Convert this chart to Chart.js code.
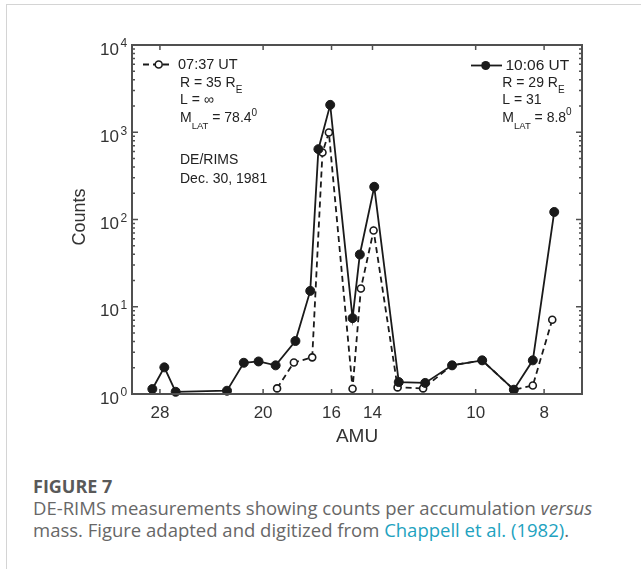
<!DOCTYPE html>
<html>
<head>
<meta charset="utf-8">
<script src="https://cdn.jsdelivr.net/npm/chart.js@4.4.0/dist/chart.umd.min.js"></script>
<style>
body { margin: 0; background: #fff; width: 641px; height: 569px; overflow: hidden; position: relative; font-family: "Open Sans", sans-serif; }
#frame { position: absolute; left: 6px; top: 4px; width: 660px; height: 600px; border-top: 1px solid #d4d4d4; border-left: 1px solid #d4d4d4; }
#wrap { position: absolute; left: 0; top: 0; width: 641px; height: 460px; }
#caption { position: absolute; left: 33px; top: 475px; width: 605px; color: #676767; }
#caption .fig { font-weight: 700; font-size: 18px; line-height: 22px; color: #595959; }
#caption p { margin: 0; font-size: 18.5px; line-height: 22px; white-space: nowrap; }
#caption a { color: #22a2c0; text-decoration: none; }
</style>
</head>
<body>
<div id="frame"></div>
<div id="wrap"><canvas id="amuChart" width="641" height="460"></canvas></div>
<div id="caption">
  <div class="fig">FIGURE 7</div>
  <p>DE-RIMS measurements showing counts per accumulation <i>versus</i><br>mass. Figure adapted and digitized from <a>Chappell et al. (1982)</a>.</p>
</div>
<script>
// DE/RIMS mass scans, Dec. 30, 1981
const amu1006 = [28.7, 27.6, 26.6, 22.5, 21.3, 20.3, 19.2, 18.0, 17.15, 16.7, 16.07, 14.94, 14.59, 13.92, 12.85, 11.79, 10.8, 9.79, 8.83, 8.3, 7.74];
const counts1006 = [1.14, 2.02, 1.06, 1.09, 2.28, 2.36, 2.13, 4.05, 15.2, 640, 2060, 7.4, 39.7, 237, 1.37, 1.34, 2.13, 2.43, 1.12, 2.43, 122];

const amu0737 = [19.11, 18.09, 17.04, 16.48, 16.14, 14.94, 14.54, 13.95, 12.9, 11.87, 10.8, 9.79, 8.83, 8.3, 7.79];
const counts0737 = [1.16, 2.3, 2.63, 585, 993, 1.15, 16.2, 74.8, 1.19, 1.16, 2.13, 2.43, 1.12, 1.25, 7.1];

const amuTicks = [28, 20, 16, 14, 10, 8];
const countDecades = [0, 1, 2, 3, 4];

const FONT = '"Liberation Sans", Arial, sans-serif';
const INK = '#1a1a1a';
const AXIS = '#505050';

function toPoints(xs, ys) {
    return xs.map((x, i) => ({ x: x, y: ys[i] }));
}

// draws a row of text pieces (for sub/superscripts)
function drawRuns(ctx, x, y, parts) {
    parts.forEach(([text, size, dy]) => {
        ctx.font = size + 'px ' + FONT;
        ctx.fillText(text, x, y + dy);
        x += ctx.measureText(text).width;
    });
}

const axesPlugin = {
    id: 'matlabAxes',
    afterDraw(chart) {
        const ctx = chart.ctx;
        const a = chart.chartArea;
        const xs = chart.scales.x;
        const ys = chart.scales.y;
        ctx.save();

        // box
        ctx.strokeStyle = AXIS;
        ctx.lineWidth = 2;
        ctx.strokeRect(a.left, a.top, a.right - a.left, a.bottom - a.top);

        // x ticks, top and bottom, pointing inwards
        ctx.lineWidth = 1.5;
        ctx.beginPath();
        amuTicks.forEach(v => {
            const px = xs.getPixelForValue(v);
            ctx.moveTo(px, a.bottom); ctx.lineTo(px, a.bottom - 5);
            ctx.moveTo(px, a.top); ctx.lineTo(px, a.top + 5);
        });
        // y ticks, major and minor, left and right
        countDecades.forEach(e => {
            for (let m = 1; m <= 9; m++) {
                if (e === 4 && m > 1) break;
                const py = ys.getPixelForValue(m * Math.pow(10, e));
                const len = m === 1 ? 6 : 3;
                ctx.moveTo(a.left, py); ctx.lineTo(a.left + len, py);
                ctx.moveTo(a.right, py); ctx.lineTo(a.right - len, py);
            }
        });
        ctx.stroke();

        // tick labels
        ctx.fillStyle = '#333';
        ctx.textBaseline = 'middle';
        ctx.textAlign = 'center';
        ctx.font = '17px ' + FONT;
        amuTicks.forEach(v => {
            ctx.fillText(String(v), xs.getPixelForValue(v), a.bottom + 19);
        });
        countDecades.forEach(e => {
            const py = ys.getPixelForValue(Math.pow(10, e));
            ctx.textAlign = 'right';
            ctx.font = '17px ' + FONT;
            ctx.fillText('10', 119, py + 5);
            ctx.textAlign = 'left';
            ctx.font = '12px ' + FONT;
            ctx.fillText(String(e), 120.5, py - 1);
        });

        // axis titles
        ctx.textAlign = 'center';
        ctx.font = '19px ' + FONT;
        ctx.fillText('AMU', (a.left + a.right) / 2, 437);
        ctx.save();
        ctx.translate(80, 217);
        ctx.rotate(-Math.PI / 2);
        ctx.font = '18px ' + FONT;
        ctx.fillText('Counts', 0, 0);
        ctx.restore();

        // legend entries
        const dsSolid = chart.data.datasets[0];
        const dsOpen = chart.data.datasets[1];
        ctx.strokeStyle = INK;
        ctx.lineWidth = 1.8;
        ctx.setLineDash([6, 4]);
        ctx.beginPath(); ctx.moveTo(143, 64.5); ctx.lineTo(169, 64.5); ctx.stroke();
        ctx.setLineDash([]);
        ctx.beginPath(); ctx.arc(158.7, 64.5, 3.5, 0, Math.PI * 2);
        ctx.fillStyle = '#fff'; ctx.fill(); ctx.lineWidth = 1.6; ctx.stroke();

        ctx.lineWidth = 1.8;
        ctx.beginPath(); ctx.moveTo(471, 65.5); ctx.lineTo(502, 65.5); ctx.stroke();
        ctx.beginPath(); ctx.arc(485.7, 65.5, 4.5, 0, Math.PI * 2);
        ctx.fillStyle = INK; ctx.fill();

        ctx.fillStyle = '#222';
        ctx.textAlign = 'left';
        drawRuns(ctx, 178, 64.5, [[dsOpen.label, 14.5, 0]]);
        drawRuns(ctx, 505.5, 65.5, [[dsSolid.label, 15.5, 0]]);

        // orbit info, 07:37 UT
        drawRuns(ctx, 180, 83, [['R = 35 R', 14, 0], ['E', 10, 7]]);
        drawRuns(ctx, 180, 100.5, [['L = \u221E', 14, 0]]);
        drawRuns(ctx, 180, 118, [['M', 14, 0], ['LAT', 9.5, 8.5], [' = 78.4', 14, 0], ['0', 10, -4.5]]);
        drawRuns(ctx, 180, 160, [['DE/RIMS', 14, 0]]);
        drawRuns(ctx, 180, 179, [['Dec. 30, 1981', 14, 0]]);

        // orbit info, 10:06 UT
        drawRuns(ctx, 502.3, 83.3, [['R = 29 R', 14, 0], ['E', 10, 7]]);
        drawRuns(ctx, 502.3, 100.5, [['L = 31', 14, 0]]);
        drawRuns(ctx, 502.3, 118, [['M', 14, 0], ['LAT', 9.5, 8.5], [' = 8.8', 14, 0], ['0', 10, -5.5]]);

        ctx.restore();
    }
};

const ctx = document.getElementById('amuChart').getContext('2d');
const amuChart = new Chart(ctx, {
    type: 'line',
    data: {
        datasets: [{
            label: '10:06 UT',
            data: toPoints(amu1006, counts1006),
            borderColor: INK,
            borderWidth: 1.8,
            pointRadius: 4.5,
            pointBackgroundColor: INK,
            pointBorderColor: INK,
            pointBorderWidth: 1,
            tension: 0,
            clip: false
        }, {
            label: '07:37 UT',
            data: toPoints(amu0737, counts0737),
            borderColor: INK,
            borderWidth: 1.8,
            borderDash: [6, 4],
            pointRadius: 3.5,
            pointBackgroundColor: '#fff',
            pointBorderColor: INK,
            pointBorderWidth: 1.6,
            tension: 0,
            clip: false
        }]
    },
    options: {
        responsive: false,
        animation: false,
        devicePixelRatio: 1,
        events: [],
        layout: { padding: { left: 132, right: 59, top: 45, bottom: 66 } },
        plugins: { legend: { display: false }, tooltip: { enabled: false } },
        scales: {
            x: { type: 'logarithmic', reverse: true, min: 7.07, max: 30.67, bounds: 'data', display: false },
            y: { type: 'logarithmic', min: 1, max: 10000, bounds: 'data', display: false }
        }
    },
    plugins: [axesPlugin]
});
</script>
</body>
</html>
